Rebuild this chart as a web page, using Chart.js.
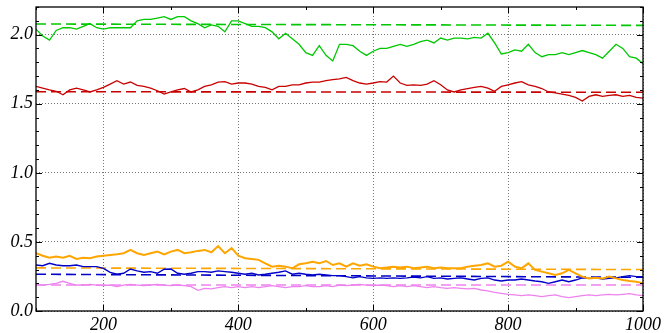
<!DOCTYPE html>
<html>
<head>
<meta charset="utf-8">
<script src="https://cdn.jsdelivr.net/npm/chart.js@4"></script>
<style>
  html, body { margin: 0; padding: 0; background: #fff; }
  #wrap { width: 664px; height: 333px; }
</style>
</head>
<body>
<div id="wrap"><canvas id="chart"></canvas></div>
<script>
// x positions, every 10 from 100 to 1000
const xs = [];
for (let x = 100; x <= 1000; x += 10) xs.push(x);

const green = [2.04,1.99,1.96,2.03,2.05,2.05,2.04,2.06,2.08,2.05,
  2.04,2.05,2.05,2.05,2.05,2.10,2.11,2.11,2.12,2.13,
  2.11,2.13,2.13,2.10,2.08,2.05,2.07,2.06,2.02,2.10,
  2.10,2.08,2.06,2.06,2.05,2.02,1.97,2.01,1.97,1.93,
  1.87,1.85,1.92,1.85,1.81,1.93,1.93,1.92,1.88,1.85,
  1.88,1.90,1.90,1.915,1.93,1.915,1.93,1.95,1.96,1.94,
  1.975,1.96,1.975,1.975,1.97,1.98,1.975,2.01,1.94,1.86,
  1.87,1.89,1.88,1.93,1.87,1.84,1.855,1.855,1.87,1.855,
  1.87,1.885,1.87,1.855,1.83,1.88,1.93,1.90,1.84,1.83,1.79];

const red = [1.625,1.613,1.60,1.59,1.565,1.60,1.613,1.60,1.585,1.60,
  1.618,1.642,1.667,1.642,1.657,1.633,1.625,1.613,1.594,1.57,
  1.585,1.60,1.61,1.585,1.60,1.625,1.637,1.657,1.66,1.642,
  1.65,1.65,1.642,1.625,1.618,1.60,1.625,1.625,1.637,1.637,
  1.65,1.657,1.657,1.667,1.674,1.68,1.69,1.667,1.65,1.642,
  1.65,1.66,1.657,1.70,1.65,1.633,1.637,1.633,1.642,1.667,
  1.637,1.60,1.585,1.60,1.61,1.618,1.625,1.613,1.59,1.625,
  1.637,1.65,1.66,1.637,1.625,1.61,1.585,1.578,1.57,1.56,
  1.546,1.52,1.553,1.565,1.553,1.56,1.565,1.553,1.56,1.546,1.54];

const orange = [0.418,0.40,0.386,0.394,0.386,0.40,0.377,0.386,0.382,0.394,
  0.40,0.406,0.41,0.418,0.442,0.418,0.406,0.418,0.43,0.41,
  0.43,0.442,0.418,0.425,0.435,0.442,0.425,0.47,0.418,0.455,
  0.40,0.382,0.377,0.37,0.345,0.321,0.328,0.321,0.309,0.338,
  0.345,0.357,0.345,0.362,0.333,0.345,0.321,0.345,0.328,0.338,
  0.321,0.309,0.314,0.321,0.314,0.321,0.309,0.314,0.321,0.309,
  0.314,0.309,0.309,0.309,0.321,0.328,0.333,0.345,0.321,0.328,
  0.357,0.321,0.309,0.345,0.297,0.285,0.273,0.261,0.273,0.297,
  0.273,0.249,0.236,0.24,0.236,0.249,0.236,0.224,0.217,0.212,0.20];

const blue = [0.333,0.328,0.345,0.333,0.328,0.328,0.333,0.321,0.321,0.321,
  0.309,0.28,0.266,0.273,0.304,0.29,0.28,0.285,0.273,0.302,
  0.304,0.273,0.266,0.273,0.285,0.285,0.28,0.29,0.285,0.28,
  0.273,0.266,0.273,0.261,0.266,0.273,0.28,0.29,0.266,0.273,
  0.266,0.261,0.266,0.261,0.256,0.256,0.249,0.24,0.249,0.24,
  0.236,0.24,0.236,0.24,0.236,0.24,0.246,0.24,0.249,0.236,
  0.24,0.232,0.236,0.24,0.232,0.224,0.236,0.24,0.224,0.217,
  0.224,0.224,0.232,0.224,0.217,0.212,0.20,0.212,0.224,0.212,
  0.224,0.24,0.236,0.24,0.232,0.236,0.24,0.249,0.256,0.249,0.249];

const violet = [0.193,0.188,0.193,0.20,0.215,0.20,0.188,0.188,0.193,0.188,
  0.184,0.188,0.176,0.188,0.193,0.188,0.184,0.188,0.193,0.188,
  0.184,0.188,0.184,0.176,0.15,0.164,0.16,0.169,0.176,0.169,
  0.176,0.169,0.176,0.169,0.176,0.184,0.176,0.169,0.176,0.176,
  0.184,0.176,0.176,0.184,0.176,0.188,0.184,0.188,0.193,0.188,
  0.184,0.188,0.184,0.176,0.184,0.176,0.184,0.176,0.169,0.176,
  0.169,0.164,0.169,0.164,0.16,0.164,0.152,0.145,0.135,0.128,
  0.121,0.116,0.111,0.116,0.111,0.104,0.111,0.116,0.104,0.097,
  0.104,0.111,0.116,0.111,0.116,0.121,0.116,0.121,0.126,0.116,0.111];

// dashed reference lines: value at x=100 and at x=1000
const refX = [100, 1000];
const greenRef = [2.077, 2.067];
const redRef = [1.587, 1.583];
const orangeRef = [0.312, 0.300];
const blueRef = [0.266, 0.244];
const violetRef = [0.188, 0.188];

const xTicks = [200, 400, 600, 800, 1000];
const yTicks = [0.0, 0.5, 1.0, 1.5, 2.0];

const cGreen = '#00c800', cRed = '#c80000', cOrange = '#ffa500', cBlue = '#0000c8', cViolet = '#ee82ee';

function pts(xv, yv) {
  return yv.map((y, i) => ({ x: xv[i], y: y }));
}
function solid(data, color, w) {
  return { data: pts(xs, data), borderColor: color, borderWidth: w, pointRadius: 0, tension: 0 };
}
function dashed(data, color) {
  return { data: pts(refX, data), borderColor: color, borderWidth: 1.6, borderDash: [10, 5], pointRadius: 0 };
}

// inward tick marks on all four sides plus black frame
const frame = {
  id: 'frame',
  afterDraw(chart) {
    const { ctx, chartArea: a, scales } = chart;
    const sx = scales.x, sy = scales.y;
    ctx.save();
    ctx.strokeStyle = '#000';
    ctx.lineWidth = 1;
    ctx.beginPath();
    for (let v = 100; v <= 1000; v += 100) {
      const p = Math.round(sx.getPixelForValue(v)) + 0.5;
      const len = v % 200 === 0 ? 6 : 3;
      ctx.moveTo(p, a.bottom); ctx.lineTo(p, a.bottom - len);
      ctx.moveTo(p, a.top); ctx.lineTo(p, a.top + len);
    }
    for (let i = 0; i <= 22; i++) {
      const p = Math.round(sy.getPixelForValue(i / 10)) + 0.5;
      const len = i % 5 === 0 ? 6 : 3;
      ctx.moveTo(a.left, p); ctx.lineTo(a.left + len, p);
      ctx.moveTo(a.right, p); ctx.lineTo(a.right - len, p);
    }
    ctx.stroke();
    ctx.lineWidth = 1.3;
    ctx.strokeRect(a.left, a.top, a.right - a.left, a.bottom - a.top);
    ctx.restore();
  }
};

const tickFont = { family: 'Liberation Serif', style: 'italic', size: 18 };

new Chart(document.getElementById('chart').getContext('2d'), {
  type: 'line',
  data: {
    datasets: [
      solid(green, cGreen, 1.3),
      solid(red, cRed, 1.3),
      solid(orange, cOrange, 2),
      solid(blue, cBlue, 1.4),
      solid(violet, cViolet, 1.3),
      dashed(greenRef, cGreen),
      dashed(redRef, cRed),
      dashed(orangeRef, cOrange),
      dashed(blueRef, cBlue),
      dashed(violetRef, cViolet)
    ]
  },
  options: {
    responsive: true,
    maintainAspectRatio: false,
    animation: false,
    layout: { padding: { left: 0, right: 21, top: 7, bottom: 0 } },
    plugins: { legend: { display: false }, tooltip: { enabled: false } },
    scales: {
      x: {
        type: 'linear', min: 100, max: 1000,
        afterBuildTicks: s => { s.ticks = xTicks.map(v => ({ value: v })); },
        afterFit: s => { s.height = 22; s.paddingLeft = 0; s.paddingRight = 0; },
        ticks: { color: '#000', font: tickFont, padding: 3, maxRotation: 0, callback: v => String(v) },
        grid: { color: '#777', lineWidth: 1, drawTicks: false },
        border: { display: false, dash: [1, 2] }
      },
      y: {
        type: 'linear', min: 0, max: 2.2,
        afterBuildTicks: s => { s.ticks = yTicks.map(v => ({ value: v })); },
        afterFit: s => { s.width = 36; s.paddingTop = 0; s.paddingBottom = 0; },
        ticks: { color: '#000', font: tickFont, padding: 3, callback: v => Number(v).toFixed(1) },
        grid: { color: '#777', lineWidth: 1, drawTicks: false },
        border: { display: false, dash: [1, 2] }
      }
    }
  },
  plugins: [frame]
});
</script>
</body>
</html>
